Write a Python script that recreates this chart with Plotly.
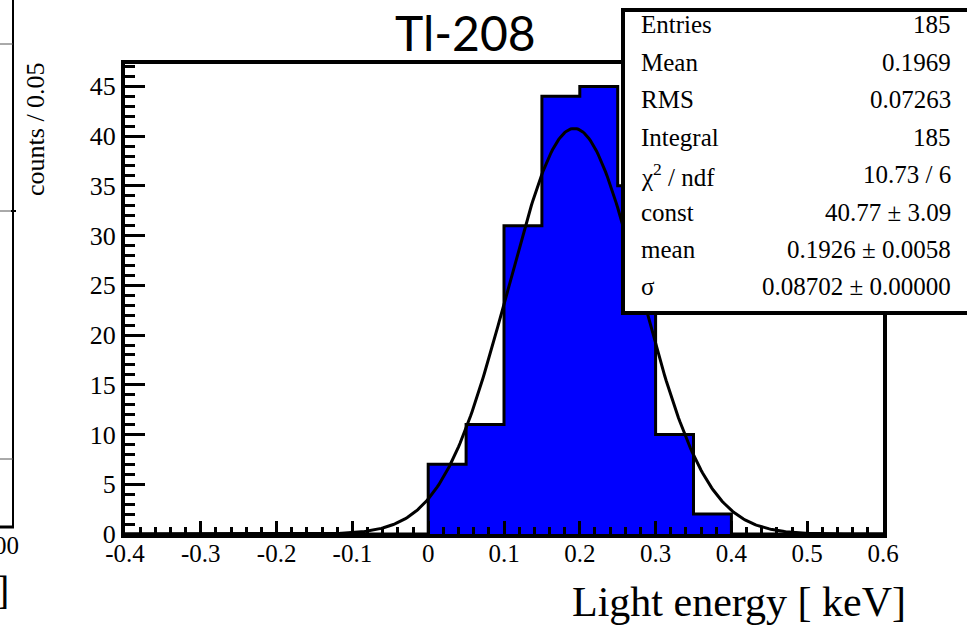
import numpy as np
import plotly.graph_objects as go

# ---------------- data ----------------
bin_edges = [round(-0.4 + 0.05 * i, 2) for i in range(21)]
bin_counts = [0, 0, 0, 0, 0, 0, 0, 0, 7, 11, 31, 44, 45, 35, 10, 2, 0, 0, 0, 0]

fit_const = 40.77
fit_mean = 0.1926
fit_sigma = 0.08702

x_tick_vals = [-0.4, -0.3, -0.2, -0.1, 0.0, 0.1, 0.2, 0.3, 0.4, 0.5, 0.6]
x_tick_text = ["-0.4", "-0.3", "-0.2", "-0.1", "0", "0.1", "0.2", "0.3", "0.4", "0.5", "0.6"]
y_tick_vals = [0, 5, 10, 15, 20, 25, 30, 35, 40, 45]
y_tick_text = ["0", "5", "10", "15", "20", "25", "30", "35", "40", "45"]

stats_labels = ["Entries", "Mean", "RMS", "Integral", "χ<sup>2</sup> / ndf", "const", "mean", "σ"]
stats_values = ["185", "0.1969", "0.07263", "185", "10.73 / 6", "40.77 ± 3.09",
                "0.1926 ± 0.0058", "0.08702 ± 0.00000"]

title_text = "Tl-208"
x_title = "Light energy [ keV]"
y_title = "counts / 0.05"

# ---------------- layout geometry (pixels) ----------------
W, H = 967, 625
L, R, T, B = 125, 883, 64, 534


def px(xp):
    return (xp - L) / (R - L)


def py(yp):
    return (B - yp) / (B - T)


serif = "Liberation Serif, Times New Roman, serif"

fig = go.Figure()

# histogram as filled step contour
step_y = bin_counts + [bin_counts[-1]]
fig.add_trace(go.Scatter(
    x=bin_edges, y=step_y, mode="lines", line_shape="hv",
    line=dict(color="black", width=3), fill="tozeroy", fillcolor="#0000FF",
    hoverinfo="skip", showlegend=False))

# gaussian fit curve from displayed fit parameters
xf = np.linspace(-0.4, 0.6, 501)
yf = fit_const * np.exp(-0.5 * ((xf - fit_mean) / fit_sigma) ** 2)
fig.add_trace(go.Scatter(x=xf, y=yf, mode="lines", line=dict(color="black", width=3),
                         hoverinfo="skip", showlegend=False))

fig.update_xaxes(
    range=[-0.4, 0.6], showgrid=False, zeroline=False,
    showline=True, linewidth=4, linecolor="black", mirror=True,
    ticks="inside", ticklen=13, tickwidth=3, tickcolor="black",
    tickvals=x_tick_vals, ticktext=x_tick_text, ticklabelstandoff=-6,
    tickfont=dict(family=serif, size=25, color="black"),
    minor=dict(ticks="inside", ticklen=7, tickwidth=3, tickcolor="black", dtick=0.02, showgrid=False),
)
fig.update_yaxes(
    range=[0, 47.25], showgrid=False, zeroline=False,
    showline=True, linewidth=4, linecolor="black", mirror=True,
    ticks="inside", ticklen=20, tickwidth=3, tickcolor="black",
    tickvals=y_tick_vals, ticktext=y_tick_text, ticklabelstandoff=0,
    tickfont=dict(family=serif, size=26, color="black"),
    minor=dict(ticks="inside", ticklen=10, tickwidth=3, tickcolor="black", dtick=1, showgrid=False),
)

shapes = []
# stats box
shapes.append(dict(type="rect", xref="paper", yref="paper",
                   x0=px(623), x1=px(985), y0=py(313), y1=py(10),
                   fillcolor="white", line=dict(color="black", width=4), layer="above"))
# neighbouring pad remnants on the left edge
shapes.append(dict(type="line", xref="paper", yref="paper", x0=px(13), x1=px(13), y0=py(-5), y1=py(527),
                   line=dict(color="black", width=2), layer="above"))
for yy in [44, 211, 459]:
    shapes.append(dict(type="line", xref="paper", yref="paper", x0=px(-5), x1=px(13), y0=py(yy), y1=py(yy),
                       line=dict(color="#555555", width=1), layer="above"))
shapes.append(dict(type="line", xref="paper", yref="paper", x0=px(11), x1=px(16), y0=py(211), y1=py(211),
                   line=dict(color="black", width=2), layer="above"))
shapes.append(dict(type="line", xref="paper", yref="paper", x0=px(-5), x1=px(14), y0=py(527), y1=py(527),
                   line=dict(color="black", width=3), layer="above"))

annotations = []
row_y0, row_dy = 25, 37.4
for i, (lab, val) in enumerate(zip(stats_labels, stats_values)):
    yy = row_y0 + i * row_dy
    annotations.append(dict(xref="paper", yref="paper", x=px(639), y=py(yy), text=lab,
                            xanchor="left", yanchor="middle", showarrow=False,
                            font=dict(family=serif, size=25, color="black")))
    annotations.append(dict(xref="paper", yref="paper", x=px(953), y=py(yy), text=val,
                            xanchor="right", yanchor="middle", showarrow=False,
                            font=dict(family=serif, size=25, color="black")))

annotations.append(dict(xref="paper", yref="paper", x=px(465), y=py(33), text=title_text,
                        xanchor="center", yanchor="middle", showarrow=False,
                        font=dict(family="Lato, Open Sans, sans-serif", size=48, color="black")))
annotations.append(dict(xref="paper", yref="paper", x=px(908), y=py(602), text=x_title,
                        xanchor="right", yanchor="middle", showarrow=False,
                        font=dict(family=serif, size=42, color="black")))
annotations.append(dict(xref="paper", yref="paper", x=px(35), y=py(60), text=y_title,
                        xanchor="center", yanchor="top", textangle=-90, showarrow=False,
                        font=dict(family=serif, size=26, color="black")))
annotations.append(dict(xref="paper", yref="paper", x=px(21), y=py(545), text="00",
                        xanchor="right", yanchor="middle", showarrow=False,
                        font=dict(family=serif, size=25, color="black")))
annotations.append(dict(xref="paper", yref="paper", x=px(11), y=py(590), text="]",
                        xanchor="right", yanchor="middle", showarrow=False,
                        font=dict(family=serif, size=40, color="black")))

fig.update_layout(
    width=W, height=H, margin=dict(l=L, r=W - R, t=T, b=H - B),
    paper_bgcolor="white", plot_bgcolor="white",
    shapes=shapes, annotations=annotations, showlegend=False,
)

fig.write_html("out.html")
